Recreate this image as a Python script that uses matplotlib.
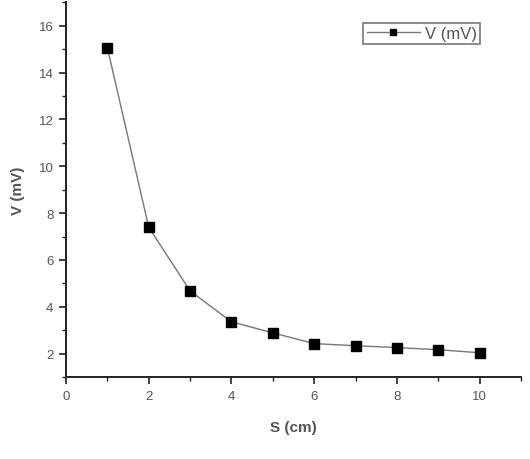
import matplotlib
matplotlib.use("Agg")
import matplotlib.pyplot as plt
from matplotlib.ticker import MultipleLocator

# -- data ---------------------------------------------------------------------
s_cm = [1, 2, 3, 4, 5, 6, 7, 8, 9, 10]
v_mv = [15.06, 7.40, 4.68, 3.36, 2.89, 2.43, 2.34, 2.26, 2.17, 2.04]

plt.rcParams["font.family"] = ["Liberation Sans", "DejaVu Sans"]
TXT = "#555555"

fig = plt.figure(figsize=(5.3, 4.6), dpi=100)
ax = fig.add_axes([0.1245, 0.178, 0.8585, 0.815])

ax.plot(s_cm, v_mv, color="#777777", linewidth=1.0, marker="s",
        markersize=6.5, markerfacecolor="black", markeredgecolor="black",
        label="V (mV)")

ax.set_xlim(0, 11)
ax.set_ylim(1, 17)
ax.xaxis.set_minor_locator(MultipleLocator(1))
ax.yaxis.set_minor_locator(MultipleLocator(1))
ax.set_xticks([0, 2, 4, 6, 8, 10])
ax.set_yticks([2, 4, 6, 8, 10, 12, 14, 16])

for side in ("top", "right"):
    ax.spines[side].set_visible(False)
for side in ("left", "bottom"):
    ax.spines[side].set_linewidth(1.4)
    ax.spines[side].set_color("#222222")

ax.tick_params(which="major", direction="out", length=5, width=1.2,
               labelsize=9.5, labelcolor=TXT, color="#222222", pad=4)
ax.tick_params(which="minor", direction="out", length=3, width=1.0,
               color="#222222")

ax.set_xlabel("S (cm)", fontsize=11, color=TXT, labelpad=13, fontweight="bold")
ax.set_ylabel("V (mV)", fontsize=11, color=TXT, labelpad=10, fontweight="bold")

leg = ax.legend(loc="upper left", bbox_to_anchor=(0.635, 0.968),
                fontsize=12, frameon=True, fancybox=False,
                handlelength=3.2, borderpad=0.2, handletextpad=0.3,
                markerscale=0.6)
leg.get_frame().set_edgecolor("#555555")
leg.get_frame().set_linewidth(1.2)
for t in leg.get_texts():
    t.set_color(TXT)

fig.savefig("out.png", dpi=100)
